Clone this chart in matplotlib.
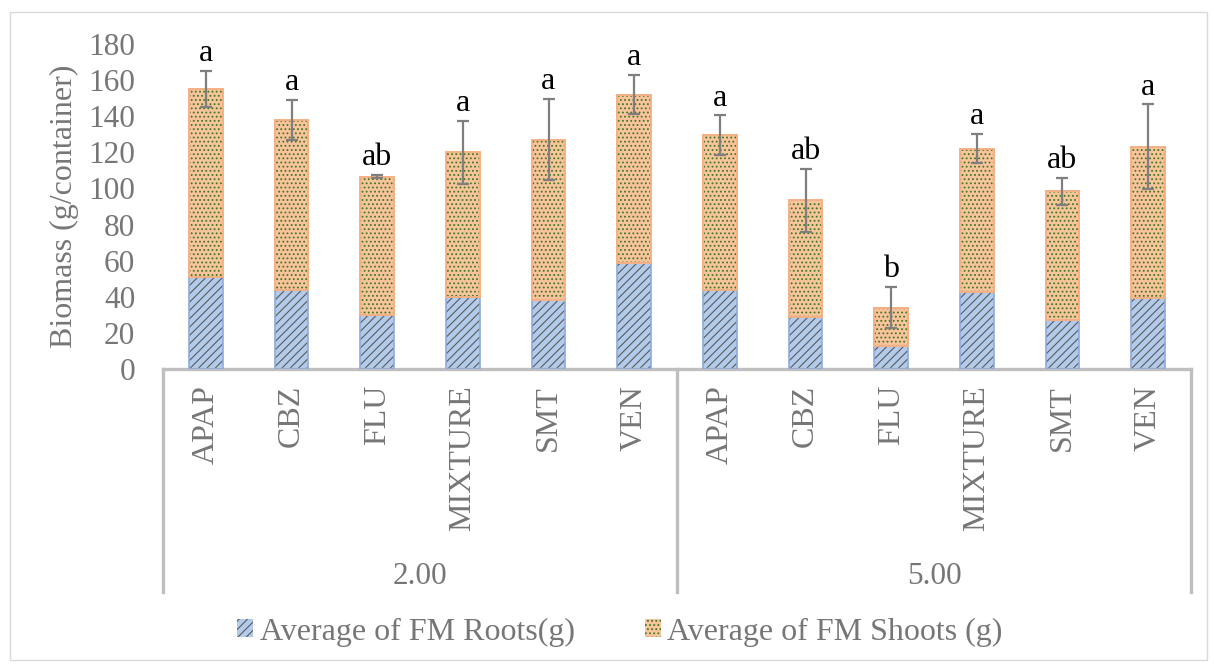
import matplotlib
matplotlib.use("Agg")
import matplotlib.pyplot as plt
import matplotlib.transforms as mtransforms
from matplotlib.patches import Patch, Rectangle
from matplotlib.lines import Line2D

plt.rcParams['font.family'] = ['Liberation Serif', 'DejaVu Serif']
plt.rcParams['hatch.linewidth'] = 0.8

groups = ["2.00", "5.00"]
treatments = ["APAP", "CBZ", "FLU", "MIXTURE", "SMT", "VEN"]
roots = [51, 44, 30, 40, 38, 58.5, 43.5, 29, 12.5, 42.5, 27, 39.5]
totals = [155, 138, 106.5, 120, 127, 152, 129.5, 93.5, 34, 122, 98.5, 123]
errors = [10, 11, 0.8, 17.5, 22.5, 11, 11, 17.5, 11.5, 8, 7.5, 23.5]
letters = ["a", "a", "ab", "a", "a", "a", "a", "ab", "b", "a", "ab", "a"]
shoots = [t - r for t, r in zip(totals, roots)]
legend_labels = ["Average of FM Roots(g)", "Average of FM Shoots (g)"]

W, H = 1214, 666
fig = plt.figure(figsize=(W / 100, H / 100), dpi=100)
ax = fig.add_axes([163 / W, (H - 369) / H, 1028 / W, 325 / H])

grey = "#767676"
frame = "#bfbfbf"
n = len(roots)
x = list(range(n))
bw = 0.39
blue_fc = "#b3cbeb"
orange_fc = "#f8c39d"
dot_green = "#3d7a1c"

# roots bars
ax.bar(x, roots, width=bw, color=blue_fc, edgecolor="#5a5a5a", hatch="////", linewidth=0, zorder=2)
ax.bar(x, roots, width=bw, fill=False, edgecolor="#8faadc", linewidth=1.2, zorder=3)
# shoots bars
ax.bar(x, shoots, bottom=roots, width=bw, color=orange_fc, edgecolor=dot_green, hatch="....", linewidth=0, zorder=2)
ax.bar(x, shoots, bottom=roots, width=bw, fill=False, edgecolor="#f4b183", linewidth=1.4, zorder=3)

ax.errorbar(x, totals, yerr=errors, fmt="none", ecolor="#7f7f7f", elinewidth=1.6, capsize=4.5, capthick=1.6, zorder=4)

for xi, t, e, l in zip(x, totals, errors, letters):
    ax.annotate(l, (xi, t + e), xytext=(0, 2), textcoords="offset points", ha="center", va="bottom",
                fontsize=23, color="black", zorder=5)

ax.set_xlim(-0.5, n - 0.5)
ax.set_ylim(0, 180)
ax.set_yticks(range(0, 181, 20))
ax.tick_params(axis="y", length=0, pad=20, labelsize=22.5, labelcolor=grey)
ax.set_xticks([])
for s in ["top", "right", "left"]:
    ax.spines[s].set_visible(False)
ax.spines["bottom"].set_color(frame)
ax.spines["bottom"].set_linewidth(2.4)

trans = mtransforms.blended_transform_factory(ax.transData, ax.transAxes)
bottom_frac = -(592 - 369) / 325
for xv in [-0.5, 5.5, n - 0.5]:
    ax.add_line(Line2D([xv, xv], [0, bottom_frac], transform=trans, color=frame, lw=2.4, clip_on=False))

lab_off = -(385 - 369) / 325
for xi in x:
    ax.text(xi, lab_off, treatments[xi % 6], transform=trans, rotation=90, ha="center", va="top",
            fontsize=23, color=grey)
grp_y = -(577 - 369) / 325
for gi, g in enumerate(groups):
    ax.text(gi * 6 + 2.5, grp_y, g, transform=trans, ha="center", va="center", fontsize=22.5, color=grey)

fig.text(64 / W, (H - 206) / H, "Biomass (g/container)", rotation=90, ha="center", va="center",
         fontsize=23, color=grey)

handles = [Patch(facecolor=blue_fc, edgecolor="#5a5a5a", hatch="////", linewidth=0),
           Patch(facecolor=orange_fc, edgecolor=dot_green, hatch="....", linewidth=0)]
leg = fig.legend(handles, legend_labels, loc="center", bbox_to_anchor=(620 / W, (H - 632) / H), ncol=2,
                 frameon=False, fontsize=23, handlelength=0.5, handleheight=0.5, handletextpad=0.2,
                 columnspacing=2.2)
for t in leg.get_texts():
    t.set_color(grey)

fig.add_artist(Rectangle((10 / W, 6 / H), 1197 / W, 648 / H, transform=fig.transFigure, fill=False,
                         edgecolor="#d9d9d9", linewidth=1))

fig.savefig("out.png", dpi=100)
